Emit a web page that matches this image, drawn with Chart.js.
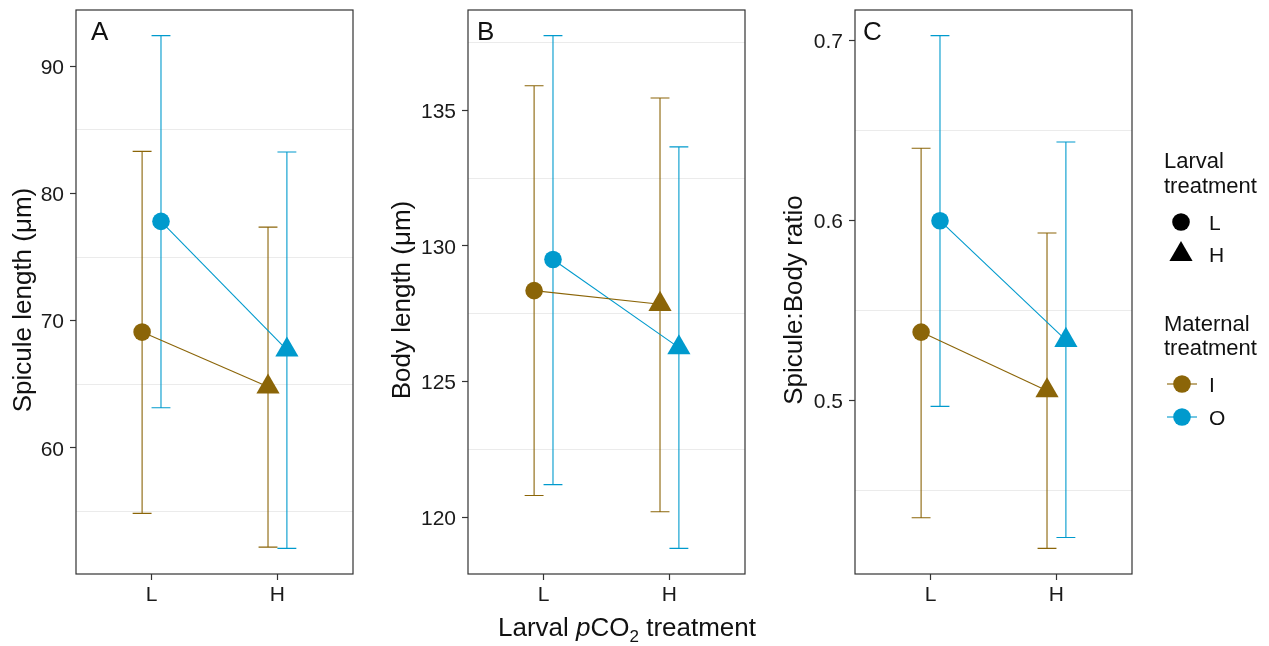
<!DOCTYPE html>
<html lang="en">
<head>
<meta charset="UTF-8">
<title>Spicule length, body length and ratio by larval and maternal treatment</title>
<script src="https://cdn.jsdelivr.net/npm/chart.js@4.4.1/dist/chart.umd.min.js"></script>
<style>
  * { box-sizing: border-box; margin: 0; padding: 0; }
  body {
    width: 1269px; height: 646px; background: #fff;
    position: relative; overflow: hidden;
    font-family: 'Liberation Sans', Arial, Helvetica, sans-serif;
  }
  canvas.panel { position: absolute; top: 0; }
  svg.overlay { position: absolute; left: 0; top: 0; pointer-events: none; }
  svg.overlay text { font-family: 'Liberation Sans', Arial, Helvetica, sans-serif; fill: #111; }
</style>
</head>
<body>
<canvas class="panel" id="panel-a" width="363" height="611" style="left:0px"></canvas>
<canvas class="panel" id="panel-b" width="363" height="611" style="left:392px"></canvas>
<canvas class="panel" id="panel-c" width="363" height="611" style="left:779px"></canvas>

<svg class="overlay" width="1269" height="646" viewBox="0 0 1269 646">
  <!-- panel letters -->
  <text x="91" y="40" font-size="26">A</text>
  <text x="477" y="40" font-size="26">B</text>
  <text x="863" y="40" font-size="26">C</text>

  <!-- y axis titles -->
  <text transform="translate(31,300) rotate(-90)" text-anchor="middle" font-size="26">Spicule length (μm)</text>
  <text transform="translate(410,300) rotate(-90)" text-anchor="middle" font-size="26">Body length (μm)</text>
  <text transform="translate(802,300) rotate(-90)" text-anchor="middle" font-size="26">Spicule:Body ratio</text>

  <!-- shared x axis title -->
  <text x="627" y="636" text-anchor="middle" font-size="26">Larval <tspan font-style="italic">p</tspan>CO<tspan font-size="17" dy="6">2</tspan><tspan dy="-6"> treatment</tspan></text>

  <!-- legend: larval treatment (shape) -->
  <text x="1164" y="168" font-size="22">Larval</text>
  <text x="1164" y="193" font-size="22">treatment</text>
  <circle cx="1181" cy="222" r="8.8" fill="#000"></circle>
  <text x="1209" y="229.5" font-size="21">L</text>
  <polygon points="1181,241 1192.6,261.1 1169.4,261.1" fill="#000"></polygon>
  <text x="1209" y="262" font-size="21">H</text>

  <!-- legend: maternal treatment (colour) -->
  <text x="1164" y="331" font-size="22">Maternal</text>
  <text x="1164" y="355" font-size="22">treatment</text>
  <line x1="1167" y1="384" x2="1197" y2="384" stroke="#8B6508" stroke-width="1.1"></line>
  <circle cx="1182" cy="384" r="8.8" fill="#8B6508"></circle>
  <text x="1209" y="391.5" font-size="21">I</text>
  <line x1="1167" y1="417" x2="1197" y2="417" stroke="#009ACD" stroke-width="1.1"></line>
  <circle cx="1182" cy="417" r="8.8" fill="#009ACD"></circle>
  <text x="1209" y="424.5" font-size="21">O</text>
</svg>

<script>
  const larvalLevels = ['L', 'H'];
  const maternalLevels = ['I', 'O'];
  const maternalColors = ['#8B6508', '#009ACD'];

  // rows = maternal I, O; columns = larval L, H
  // A: spicule length (µm)
  const spiculeMean  = [[69.1, 64.8], [77.8, 67.7]];
  const spiculeLower = [[54.85, 52.2], [63.15, 52.1]];
  const spiculeUpper = [[83.3, 77.35], [92.4, 83.25]];
  const spiculeTicks = [60, 70, 80, 90];

  // B: body length (µm)
  const bodyMean  = [[128.35, 127.85], [129.5, 126.25]];
  const bodyLower = [[120.8, 120.2], [121.2, 118.85]];
  const bodyUpper = [[135.9, 135.45], [137.75, 133.65]];
  const bodyTicks = [120, 125, 130, 135];

  // C: spicule:body ratio
  const ratioMean  = [[0.538, 0.5055], [0.5998, 0.5335]];
  const ratioLower = [[0.435, 0.418], [0.4968, 0.424]];
  const ratioUpper = [[0.640, 0.593], [0.7025, 0.6435]];
  const ratioTicks = [0.5, 0.6, 0.7];

  const DODGE = 0.075;   // half of position_dodge width, in x units
  const CAP = 0.075;     // half width of error bar caps
  const FONT = "'Liberation Sans', Arial, Helvetica, sans-serif";
  const CLEAR = 'rgba(0,0,0,0)';

  // error bars under the points, drawn from the same scales
  const errorBars = {
    id: 'errorBars',
    beforeDatasetsDraw(chart) {
      const { ctx, scales: { x, y } } = chart;
      ctx.save();
      ctx.lineWidth = 1.1;
      chart.data.datasets.forEach(ds => {
        ctx.strokeStyle = ds.borderColor;
        ds.data.forEach(p => {
          const cx = x.getPixelForValue(p.x);
          const half = x.getPixelForValue(p.x + CAP) - cx;
          const top = y.getPixelForValue(p.hi);
          const bot = y.getPixelForValue(p.lo);
          ctx.beginPath();
          ctx.moveTo(cx, top); ctx.lineTo(cx, bot);
          ctx.moveTo(cx - half, top); ctx.lineTo(cx + half, top);
          ctx.moveTo(cx - half, bot); ctx.lineTo(cx + half, bot);
          ctx.stroke();
        });
      });
      ctx.restore();
    }
  };

  // panel border box
  const frame = {
    id: 'frame',
    afterDatasetsDraw(chart) {
      const { ctx, chartArea: a } = chart;
      ctx.save();
      ctx.strokeStyle = '#333';
      ctx.lineWidth = 1.2;
      ctx.strokeRect(a.left, a.top, a.right - a.left, a.bottom - a.top);
      ctx.restore();
    }
  };

  function makePanel(id, mean, lower, upper, majors) {
    const lo = Math.min(...lower.flat());
    const hi = Math.max(...upper.flat());
    const pad = (hi - lo) * 0.05;
    const yMin = lo - pad, yMax = hi + pad;
    const step = majors[1] - majors[0];
    const minors = [majors[0] - step / 2, ...majors.map(t => t + step / 2)]
      .filter(v => v > yMin && v < yMax);
    const isMajor = v => majors.some(t => Math.abs(t - v) < 1e-9);

    const datasets = maternalLevels.map((m, i) => ({
      label: m,
      data: larvalLevels.map((l, j) => ({
        x: j + 1 + (i === 0 ? -DODGE : DODGE),
        y: mean[i][j], lo: lower[i][j], hi: upper[i][j]
      })),
      showLine: true,
      borderColor: maternalColors[i],
      backgroundColor: maternalColors[i],
      borderWidth: 1.1,
      pointStyle: ['circle', 'triangle'],
      pointRadius: [8.8, 13.4],
      pointBorderWidth: 0,
      pointBorderColor: maternalColors[i],
      pointBackgroundColor: maternalColors[i]
    }));

    return new Chart(document.getElementById(id), {
      type: 'scatter',
      data: { datasets },
      plugins: [errorBars, frame],
      options: {
        responsive: false, animation: false, devicePixelRatio: 1,
        layout: { autoPadding: false, padding: { top: 10, right: 10, left: 0, bottom: 0 } },
        plugins: { legend: { display: false }, tooltip: { enabled: false } },
        scales: {
          x: {
            type: 'linear', min: 0.4, max: 2.6,
            afterBuildTicks: s => { s.ticks = larvalLevels.map((_, j) => ({ value: j + 1 })); },
            afterFit: s => { s.height = 37; s.paddingLeft = 0; s.paddingRight = 0; },
            ticks: {
              callback: v => larvalLevels[Math.round(v) - 1],
              color: '#1a1a1a', font: { family: FONT, size: 21 },
              padding: 3, autoSkip: false, maxRotation: 0
            },
            grid: { drawOnChartArea: false, tickLength: 6, tickColor: '#333', tickWidth: 1.2 },
            border: { display: false }
          },
          y: {
            type: 'linear', min: yMin, max: yMax,
            afterBuildTicks: s => {
              s.ticks = [...majors, ...minors].sort((a, b) => a - b).map(v => ({ value: v }));
            },
            afterFit: s => { s.width = 76; s.paddingTop = 0; s.paddingBottom = 0; },
            ticks: {
              callback: v => isMajor(v) ? String(v) : '',
              color: '#1a1a1a', font: { family: FONT, size: 21 },
              padding: 6, autoSkip: false, labelOffset: 2
            },
            grid: {
              color: c => (c.tick && !isMajor(c.tick.value)) ? '#ebebeb' : CLEAR,
              lineWidth: 1,
              tickLength: 6,
              tickColor: c => (c.tick && isMajor(c.tick.value)) ? '#333' : CLEAR,
              tickWidth: 1.2
            },
            border: { display: false }
          }
        }
      }
    });
  }

  makePanel('panel-a', spiculeMean, spiculeLower, spiculeUpper, spiculeTicks);
  makePanel('panel-b', bodyMean, bodyLower, bodyUpper, bodyTicks);
  makePanel('panel-c', ratioMean, ratioLower, ratioUpper, ratioTicks);
</script>
</body>
</html>
